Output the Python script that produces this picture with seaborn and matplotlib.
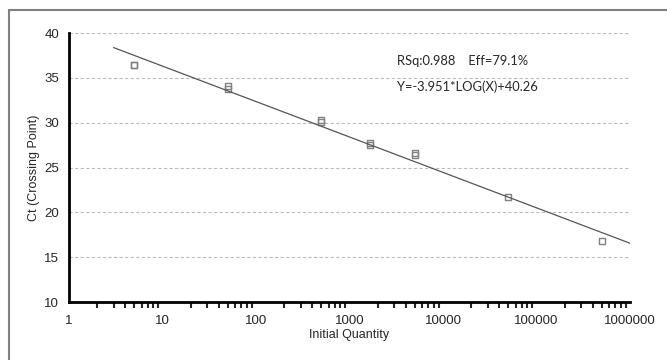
import numpy as np
import pandas as pd
import matplotlib
matplotlib.use("Agg")
import matplotlib.pyplot as plt
import matplotlib.ticker as mticker
from matplotlib.lines import Line2D
import seaborn as sns

# standard curve data
quantity = [5, 5, 50, 50, 500, 500, 1667, 1667, 5000, 5000, 50000, 500000]
ct_value = [36.4, 36.4, 34.1, 33.8, 30.3, 30.1, 27.7, 27.5, 26.6, 26.4, 21.7, 16.8]

# fitted line as printed on the chart
slope = -3.951
intercept = 40.26
fit_x = [3, 1000000]
rsq_text = "RSq:0.988    Eff=79.1%"
eq_text = "Y=-3.951*LOG(X)+40.26"

df = pd.DataFrame({"quantity": quantity, "ct": ct_value})
fit = pd.DataFrame({"quantity": fit_x})
fit["ct"] = intercept + slope * np.log10(fit["quantity"])

sns.set_style("white")
plt.rcParams["font.family"] = ["Liberation Sans Narrow", "Liberation Sans", "DejaVu Sans"]

fig = plt.figure(figsize=(6.67, 3.6), dpi=100)
ax = fig.add_axes([0.1034, 0.1611, 0.8411, 0.7472])

sns.lineplot(x="quantity", y="ct", data=fit, ax=ax, color="#555555", lw=0.9)
sns.scatterplot(x="quantity", y="ct", data=df, ax=ax, marker="s", s=18,
                facecolor="none", edgecolor="#808080", linewidth=1.0)

ax.set_xscale("log")
ax.set_xlim(1, 1000000)
ax.set_ylim(10, 40)
ax.xaxis.set_major_locator(mticker.LogLocator(base=10, numticks=10))
ax.xaxis.set_major_formatter(mticker.FuncFormatter(lambda v, p: f"{int(round(v))}"))
ax.xaxis.set_minor_locator(mticker.FixedLocator(
    [m * 10 ** d for d in range(6) for m in range(2, 10)]))
ax.xaxis.set_minor_formatter(mticker.NullFormatter())
ax.yaxis.set_major_locator(mticker.MultipleLocator(5))
ax.yaxis.set_minor_locator(mticker.MultipleLocator(2.5))

for y in [15, 20, 25, 30, 35, 40]:
    ax.axhline(y, color="#bdbdbd", lw=0.8, ls=(0, (3, 2)), zorder=0)

for s in ["top", "right"]:
    ax.spines[s].set_visible(False)
for s in ["left", "bottom"]:
    ax.spines[s].set_linewidth(2)
    ax.spines[s].set_color("black")

ax.tick_params(axis="y", which="major", direction="out", length=5, width=2, labelsize=9.5, pad=2)
ax.tick_params(axis="y", which="minor", direction="out", length=3, width=2)
ax.tick_params(axis="x", which="major", direction="inout", length=8, width=1.5, labelsize=9.5, pad=5)
ax.tick_params(axis="x", which="minor", direction="out", length=4, width=1.5, bottom=True)

ax.set_xlabel("Initial Quantity", fontsize=9, labelpad=2)
ax.set_ylabel("Ct (Crossing Point)", fontsize=9, labelpad=3)

ax.text(0.584, 0.895, rsq_text, transform=ax.transAxes, fontsize=9.3,
        family=["Lato", "DejaVu Sans"], va="center", ha="left")
ax.text(0.584, 0.8, eq_text, transform=ax.transAxes, fontsize=9.3,
        family=["Lato", "DejaVu Sans"], va="center", ha="left")

# gray frame around the chart area (left and top visible)
fig.add_artist(Line2D([9 / 667, 9 / 667], [0, 1 - 10 / 360], color="#808080", lw=1.5))
fig.add_artist(Line2D([9 / 667, 1], [1 - 10 / 360, 1 - 10 / 360], color="#808080", lw=1.5))

fig.savefig("out.png", dpi=100)
